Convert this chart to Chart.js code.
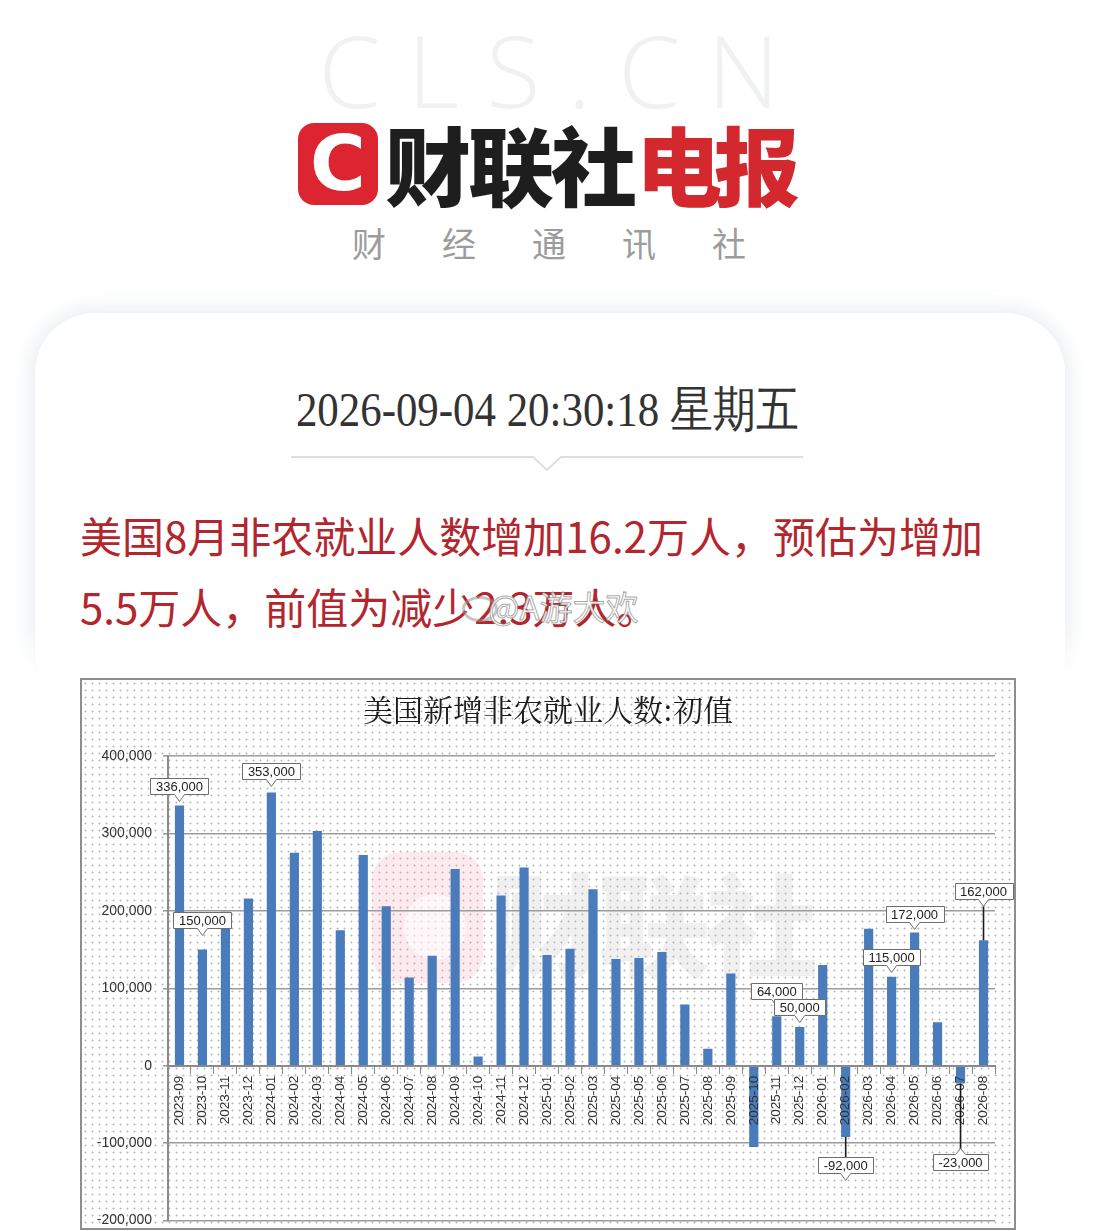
<!DOCTYPE html>
<html>
<head>
<meta charset="utf-8">
<script src="https://cdn.jsdelivr.net/npm/chart.js@4.4.1/dist/chart.umd.min.js"></script>
<style>
html,body{margin:0;padding:0;background:#fff;}
body{width:1098px;height:1231px;overflow:hidden;position:relative;font-family:"Noto Sans CJK SC","Noto Sans",sans-serif;}
.abs{position:absolute;}
#cls{left:0;width:1098px;top:14px;text-align:center;font-family:"Open Sans","DejaVu Sans",sans-serif;font-weight:300;font-size:100px;line-height:110px;letter-spacing:27px;padding-left:27px;box-sizing:border-box;color:#eff1f2;}
#logoC{left:298px;top:123px;width:80px;height:82px;border-radius:16px;background:#dc2530;color:#fff;font-family:"DejaVu Sans",sans-serif;font-weight:bold;font-size:76px;line-height:82px;text-align:center;}
#logoT1{left:385px;top:108px;font-size:86px;line-height:110px;font-weight:900;color:#1e1e1e;letter-spacing:-3px;}
#logoT2{left:636px;top:108px;font-size:86px;line-height:110px;font-weight:900;color:#d3282e;letter-spacing:-8px;}
#sub{left:352px;top:220px;font-size:34px;line-height:46px;color:#9c9c9c;letter-spacing:56px;white-space:nowrap;}
#card{left:35px;top:313px;width:1030px;height:400px;border-radius:60px;background:#fff;box-shadow:0 0 16px 7px rgba(214,221,229,0.45);}
#fade{left:0;top:622px;width:1098px;height:110px;background:linear-gradient(rgba(255,255,255,0),#fff 50%);}
#date{left:0;width:1094px;top:380px;text-align:center;font-family:"Liberation Serif","DejaVu Serif",serif;font-size:49px;line-height:60px;color:#333;}
#date span{display:inline-block;transform:scaleX(0.875);white-space:nowrap;}
#news{left:80px;top:499px;width:1000px;font-size:42px;line-height:71px;color:#b3262d;white-space:nowrap;}
#wm{left:466px;top:584px;font-size:33px;line-height:44px;color:rgba(255,255,255,0.88);-webkit-text-stroke:1px rgba(110,110,110,0.6);white-space:nowrap;}
#wmIcon{left:462px;top:596px;width:36px;height:26px;border-radius:50%;border:3px solid rgba(150,150,150,0.55);box-sizing:border-box;}
#box{left:80px;top:678px;width:936px;height:552px;border:2px solid #8e8e8e;box-sizing:border-box;overflow:hidden;
 background-color:#fff;background-image:radial-gradient(circle,#b4b4b4 0.75px,rgba(255,255,255,0) 1.2px);background-size:7px 7px;}
#wmPink{left:290px;top:172px;width:111px;height:131px;border-radius:28px;background:rgba(240,160,180,0.22);}
#wmPinkIn{left:322px;top:214px;width:62px;height:66px;border-radius:50%;background:rgba(255,255,255,0.55);}
#wmText{left:408px;top:170px;font-size:112px;line-height:140px;font-weight:900;color:rgba(185,185,185,0.22);letter-spacing:-4px;white-space:nowrap;}
canvas{position:absolute;left:0;top:0;}
</style>
</head>
<body>
<div id="cls" class="abs">CLS.CN</div>
<div id="logoC" class="abs">C</div>
<div id="logoT1" class="abs">财联社</div>
<div id="logoT2" class="abs">电报</div>
<div id="sub" class="abs">财经通讯社</div>
<div id="card" class="abs"></div>
<div id="fade" class="abs"></div>
<div id="date" class="abs"><span>2026-09-04 20:30:18 星期五</span></div>
<svg class="abs" style="left:0;top:0" width="1098" height="480">
  <polyline points="291,457 533,457 547,470 561,457 803,457" fill="none" stroke="#dedede" stroke-width="2"/>
</svg>
<div id="news" class="abs">美国8月非农就业人数增加16.2万人，预估为增加<br>5.5万人，前值为减少2.3万人。</div>
<div id="wmIcon" class="abs"></div>
<div id="wm" class="abs">&nbsp;&nbsp;&nbsp;@A游大欢</div>
<div id="box" class="abs">
  <div id="wmPink" class="abs"></div>
  <div id="wmPinkIn" class="abs"></div>
  <div id="wmText" class="abs">财联社</div>
  <canvas id="c" width="932" height="560"></canvas>
</div>
<script>
// ---- data ----
const chartTitle = "美国新增非农就业人数:初值";
const categories = ["2023-09","2023-10","2023-11","2023-12","2024-01","2024-02","2024-03","2024-04","2024-05","2024-06","2024-07","2024-08","2024-09","2024-10","2024-11","2024-12","2025-01","2025-02","2025-03","2025-04","2025-05","2025-06","2025-07","2025-08","2025-09","2025-10","2025-11","2025-12","2026-01","2026-02","2026-03","2026-04","2026-05","2026-06","2026-07","2026-08"];
const payrolls = [336000,150000,199000,216000,353000,275000,303000,175000,272000,206000,114000,142000,254000,12000,220000,256000,143000,151000,228000,138000,139000,147000,79000,22000,119000,-105000,64000,50000,130000,-92000,177000,115000,172000,56000,-23000,162000];
const yMin = -200000, yMax = 400000, yStep = 100000;
const labeledMonths = ["2023-09","2023-10","2024-01","2025-11","2025-12","2026-02","2026-04","2026-05","2026-07","2026-08"];

// ---- label styling (offsets in px, not data) ----
const calloutGap = [12,22,13,17,12,20,12,11,70,41];
const calloutLeader = [false,false,false,false,false,true,false,false,true,true];
const calloutPointer = ["down","down","down","down","down","down","down","down","up","down"];

const fmt = v => v.toLocaleString('en-US');

const calloutPlugin = {
  id: 'callouts',
  afterDraw(chart) {
    const ctx = chart.ctx;
    const meta = chart.getDatasetMeta(0);
    ctx.save();
    ctx.font = '13px "Liberation Sans", Arial, sans-serif';
    labeledMonths.forEach((m, k) => {
      const idx = categories.indexOf(m);
      const el = meta.data[idx];
      const v = payrolls[idx];
      const txt = fmt(v);
      const tw = ctx.measureText(txt).width;
      const w = Math.round(tw + 11), h = 16;
      const cx = el.x;
      const neg = v < 0;
      const end = el.y;
      let top;
      if (!neg) { top = end - calloutGap[k] - h; }
      else { top = end + calloutGap[k]; }
      const left = Math.round(cx - w / 2) + 0.5, right = left + w;
      top = Math.round(top) + 0.5;
      const bottom = top + h;
      if (calloutLeader[k]) {
        ctx.strokeStyle = '#1a1a1a'; ctx.lineWidth = 1.6;
        ctx.beginPath();
        ctx.moveTo(cx, end);
        ctx.lineTo(cx, neg ? top : bottom + 6);
        ctx.stroke();
      }
      ctx.beginPath();
      ctx.moveTo(left, top);
      if (calloutPointer[k] === 'up') {
        ctx.lineTo(cx - 5, top); ctx.lineTo(cx, top - 6); ctx.lineTo(cx + 5, top);
      }
      ctx.lineTo(right, top);
      ctx.lineTo(right, bottom);
      if (calloutPointer[k] === 'down') {
        ctx.lineTo(cx + 5, bottom); ctx.lineTo(cx, bottom + 7); ctx.lineTo(cx - 5, bottom);
      }
      ctx.lineTo(left, bottom);
      ctx.closePath();
      ctx.fillStyle = '#fff'; ctx.fill();
      ctx.strokeStyle = '#6e6e6e'; ctx.lineWidth = 1; ctx.stroke();
      ctx.fillStyle = '#222';
      ctx.textAlign = 'center'; ctx.textBaseline = 'middle';
      ctx.fillText(txt, cx, top + h / 2 + 0.5);
    });
    ctx.restore();
  }
};

new Chart(document.getElementById('c'), {
  type: 'bar',
  data: {
    labels: categories,
    datasets: [{
      data: payrolls,
      backgroundColor: '#4a7cbc',
      borderWidth: 0,
      barPercentage: 0.4,
      categoryPercentage: 1.0
    }]
  },
  options: {
    responsive: false,
    animation: false,
    devicePixelRatio: 1,
    layout: { padding: { left: 0, right: 0, top: 0, bottom: 9 } },
    plugins: {
      legend: { display: false },
      tooltip: { enabled: false },
      title: {
        display: true, text: chartTitle, color: '#1c1c1c',
        font: { family: '"Noto Serif CJK SC","Noto Sans CJK SC",serif', size: 30, weight: 'normal', lineHeight: 1.2 },
        padding: { top: 12, bottom: 28 }
      }
    },
    scales: {
      x: {
        position: { y: 0 },
        offset: true,
        grid: { display: true, drawOnChartArea: false, drawTicks: true, tickLength: 7, offset: true, color: '#8a8a8a', lineWidth: 1 },
        border: { display: true, color: '#8a8a8a', width: 2, z: 1 },
        ticks: { z: 1, autoSkip: false, minRotation: 90, maxRotation: 90, padding: 3, color: '#333',
          font: { family: '"Liberation Sans", Arial, sans-serif', size: 13.5 } }
      },
      y: {
        min: yMin, max: yMax,
        ticks: { stepSize: yStep, color: '#333', padding: 11,
          font: { family: '"Liberation Sans", Arial, sans-serif', size: 14 },
          callback: v => fmt(v) },
        grid: { color: '#9c9c9c', lineWidth: 1.6, drawTicks: true, tickLength: 5 },
        border: { display: true, color: '#8a8a8a', width: 2 },
        afterFit(s) { s.width = 86; }
      },
      yRight: {
        position: 'right',
        display: true,
        min: yMin, max: yMax,
        grid: { display: false, drawTicks: false },
        border: { display: false },
        ticks: { display: false },
        afterFit(s) { s.width = 19; }
      }
    }
  },
  plugins: [calloutPlugin]
});
</script>
</body>
</html>
